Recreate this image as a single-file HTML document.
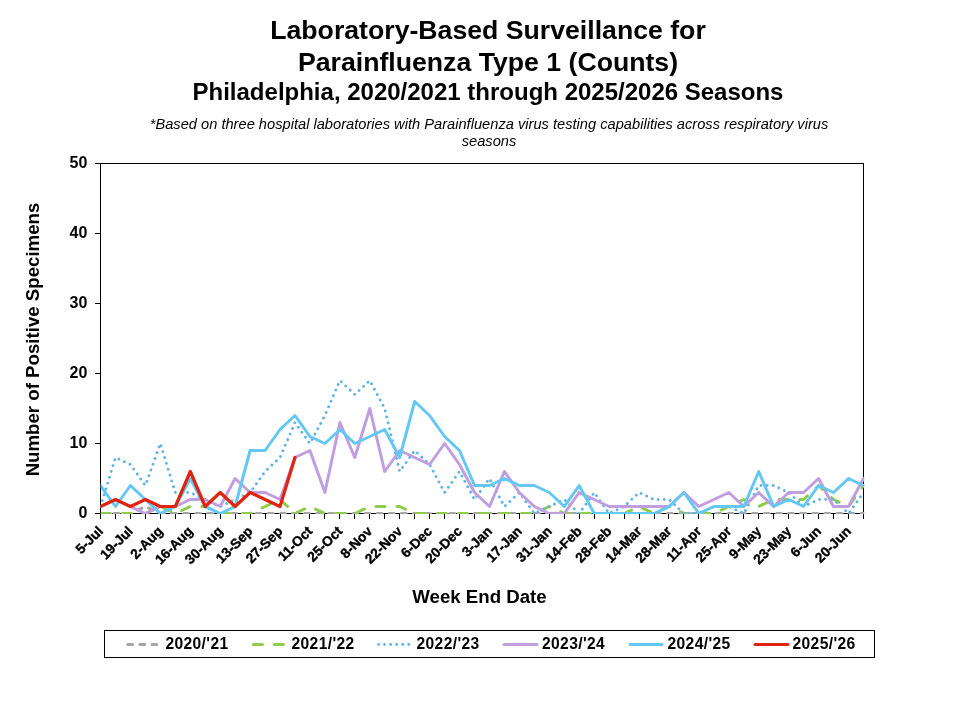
<!DOCTYPE html>
<html lang="en"><head><meta charset="utf-8"><title>Parainfluenza Type 1 Surveillance</title>
<style>
html,body{margin:0;padding:0;background:#fff;}
body{width:960px;height:720px;overflow:hidden;}
svg{display:block;}
text{font-family:"Liberation Sans",sans-serif;fill:#000;}
.b{font-weight:bold;}
.t1{font-size:26.67px;font-weight:bold;text-anchor:middle;}
.t2{font-size:24px;font-weight:bold;text-anchor:middle;}
.sub{font-size:14.67px;font-style:italic;text-anchor:middle;}
.yl{font-size:16px;font-weight:bold;text-anchor:end;}
.xl{font-size:13.8px;font-weight:bold;text-anchor:end;stroke:#000;stroke-width:0.35px;}
.at{font-size:18.67px;font-weight:bold;text-anchor:middle;}
.lg{font-size:15.6px;font-weight:bold;letter-spacing:0.38px;}
.ln{fill:none;stroke-linejoin:round;}
</style></head><body>
<svg width="960" height="720" viewBox="0 0 960 720">
<rect width="960" height="720" fill="#fff"/>
<text class="t1" x="488" y="39">Laboratory-Based Surveillance for</text>
<text class="t1" x="488" y="70.5">Parainfluenza Type 1 (Counts)</text>
<text class="t2" x="488" y="100">Philadelphia, 2020/2021 through 2025/2026 Seasons</text>
<text class="sub" x="489" y="129.3">*Based on three hospital laboratories with Parainfluenza virus testing capabilities across respiratory virus</text>
<text class="sub" x="489" y="146">seasons</text>
<g stroke="#000" stroke-width="1" fill="none" shape-rendering="crispEdges">
<rect x="100.5" y="163.5" width="763" height="350"/>
<line x1="95" y1="513.5" x2="100.5" y2="513.5"/>
<line x1="95" y1="443.5" x2="100.5" y2="443.5"/>
<line x1="95" y1="373.5" x2="100.5" y2="373.5"/>
<line x1="95" y1="303.5" x2="100.5" y2="303.5"/>
<line x1="95" y1="233.5" x2="100.5" y2="233.5"/>
<line x1="95" y1="163.5" x2="100.5" y2="163.5"/>
<line x1="100.5" y1="513.5" x2="100.5" y2="519"/>
<line x1="115.5" y1="513.5" x2="115.5" y2="519"/>
<line x1="130.5" y1="513.5" x2="130.5" y2="519"/>
<line x1="145.5" y1="513.5" x2="145.5" y2="519"/>
<line x1="160.5" y1="513.5" x2="160.5" y2="519"/>
<line x1="175.5" y1="513.5" x2="175.5" y2="519"/>
<line x1="190.5" y1="513.5" x2="190.5" y2="519"/>
<line x1="205.5" y1="513.5" x2="205.5" y2="519"/>
<line x1="220.5" y1="513.5" x2="220.5" y2="519"/>
<line x1="235.5" y1="513.5" x2="235.5" y2="519"/>
<line x1="250.5" y1="513.5" x2="250.5" y2="519"/>
<line x1="265.5" y1="513.5" x2="265.5" y2="519"/>
<line x1="280.5" y1="513.5" x2="280.5" y2="519"/>
<line x1="294.5" y1="513.5" x2="294.5" y2="519"/>
<line x1="309.5" y1="513.5" x2="309.5" y2="519"/>
<line x1="324.5" y1="513.5" x2="324.5" y2="519"/>
<line x1="339.5" y1="513.5" x2="339.5" y2="519"/>
<line x1="354.5" y1="513.5" x2="354.5" y2="519"/>
<line x1="369.5" y1="513.5" x2="369.5" y2="519"/>
<line x1="384.5" y1="513.5" x2="384.5" y2="519"/>
<line x1="399.5" y1="513.5" x2="399.5" y2="519"/>
<line x1="414.5" y1="513.5" x2="414.5" y2="519"/>
<line x1="429.5" y1="513.5" x2="429.5" y2="519"/>
<line x1="444.5" y1="513.5" x2="444.5" y2="519"/>
<line x1="459.5" y1="513.5" x2="459.5" y2="519"/>
<line x1="474.5" y1="513.5" x2="474.5" y2="519"/>
<line x1="489.5" y1="513.5" x2="489.5" y2="519"/>
<line x1="504.5" y1="513.5" x2="504.5" y2="519"/>
<line x1="519.5" y1="513.5" x2="519.5" y2="519"/>
<line x1="534.5" y1="513.5" x2="534.5" y2="519"/>
<line x1="549.5" y1="513.5" x2="549.5" y2="519"/>
<line x1="564.5" y1="513.5" x2="564.5" y2="519"/>
<line x1="579.5" y1="513.5" x2="579.5" y2="519"/>
<line x1="594.5" y1="513.5" x2="594.5" y2="519"/>
<line x1="609.5" y1="513.5" x2="609.5" y2="519"/>
<line x1="624.5" y1="513.5" x2="624.5" y2="519"/>
<line x1="639.5" y1="513.5" x2="639.5" y2="519"/>
<line x1="654.5" y1="513.5" x2="654.5" y2="519"/>
<line x1="668.5" y1="513.5" x2="668.5" y2="519"/>
<line x1="683.5" y1="513.5" x2="683.5" y2="519"/>
<line x1="698.5" y1="513.5" x2="698.5" y2="519"/>
<line x1="713.5" y1="513.5" x2="713.5" y2="519"/>
<line x1="728.5" y1="513.5" x2="728.5" y2="519"/>
<line x1="743.5" y1="513.5" x2="743.5" y2="519"/>
<line x1="758.5" y1="513.5" x2="758.5" y2="519"/>
<line x1="773.5" y1="513.5" x2="773.5" y2="519"/>
<line x1="788.5" y1="513.5" x2="788.5" y2="519"/>
<line x1="803.5" y1="513.5" x2="803.5" y2="519"/>
<line x1="818.5" y1="513.5" x2="818.5" y2="519"/>
<line x1="833.5" y1="513.5" x2="833.5" y2="519"/>
<line x1="848.5" y1="513.5" x2="848.5" y2="519"/>
<line x1="863.5" y1="513.5" x2="863.5" y2="519"/>
</g>
<clipPath id="pc"><rect x="100.6" y="160" width="763.7" height="354"/></clipPath>
<g class="ln" clip-path="url(#pc)">
<polyline points="100.5,513.5 115.5,513.5 130.4,513.5 145.4,506.5 160.3,513.5 175.3,513.5 190.3,513.5 205.2,513.5 220.2,513.5 235.1,513.5 250.1,513.5 265.1,513.5 280.0,513.5 295.0,513.5 309.9,513.5 324.9,513.5 339.9,513.5 354.8,513.5 369.8,513.5 384.7,513.5 399.7,513.5 414.7,513.5 429.6,513.5 444.6,513.5 459.5,513.5 474.5,513.5 489.5,513.5 504.4,513.5 519.4,513.5 534.3,513.5 549.3,513.5 564.3,513.5 579.2,513.5 594.2,513.5 609.1,513.5 624.1,513.5 639.1,513.5 654.0,513.5 669.0,513.5 683.9,513.5 698.9,513.5 713.9,513.5 728.8,513.5 743.8,513.5 758.7,513.5 773.7,513.5 788.7,513.5 803.6,513.5 818.6,513.5 833.5,513.5 848.5,513.5 863.5,513.5" stroke="#a5a5a5" stroke-width="3" stroke-dasharray="4.8 7.3" stroke-dashoffset="-1.5" stroke-linecap="round"/>
<polyline points="100.5,513.5 115.5,513.5 130.4,513.5 145.4,513.5 160.3,506.5 175.3,513.5 190.3,506.5 205.2,506.5 220.2,513.5 235.1,513.5 250.1,513.5 265.1,506.5 280.0,499.5 295.0,513.5 309.9,506.5 324.9,513.5 339.9,513.5 354.8,513.5 369.8,506.5 384.7,506.5 399.7,506.5 414.7,513.5 429.6,513.5 444.6,513.5 459.5,513.5 474.5,513.5 489.5,513.5 504.4,513.5 519.4,513.5 534.3,513.5 549.3,506.5 564.3,513.5 579.2,513.5 594.2,513.5 609.1,513.5 624.1,513.5 639.1,506.5 654.0,513.5 669.0,506.5 683.9,513.5 698.9,513.5 713.9,513.5 728.8,506.5 743.8,499.5 758.7,506.5 773.7,499.5 788.7,499.5 803.6,499.5 818.6,485.5 833.5,499.5 848.5,506.5 863.5,485.5" stroke="#8ecd4c" stroke-width="3" stroke-dasharray="9 12" stroke-dashoffset="-1" stroke-linecap="round"/>
<polyline points="100.5,506.5 115.5,457.5 130.4,464.5 145.4,485.5 160.3,443.5 175.3,492.5 190.3,492.5 205.2,499.5 220.2,506.5 235.1,499.5 250.1,492.5 265.1,471.5 280.0,457.5 295.0,422.5 309.9,443.5 324.9,415.5 339.9,380.5 354.8,394.5 369.8,380.5 384.7,408.5 399.7,471.5 414.7,450.5 429.6,464.5 444.6,492.5 459.5,471.5 474.5,499.5 489.5,478.5 504.4,506.5 519.4,492.5 534.3,513.5 549.3,506.5 564.3,499.5 579.2,513.5 594.2,492.5 609.1,513.5 624.1,506.5 639.1,492.5 654.0,499.5 669.0,499.5 683.9,513.5 698.9,513.5 713.9,506.5 728.8,506.5 743.8,513.5 758.7,485.5 773.7,485.5 788.7,492.5 803.6,506.5 818.6,499.5 833.5,499.5 848.5,513.5 863.5,492.5" stroke="#64b3e5" stroke-width="2.9" stroke-dasharray="0.01 6.1" stroke-linecap="round"/>
<polyline points="100.5,506.5 115.5,499.5 130.4,506.5 145.4,513.5 160.3,506.5 175.3,506.5 190.3,499.5 205.2,499.5 220.2,506.5 235.1,478.5 250.1,492.5 265.1,492.5 280.0,499.5 295.0,457.5 309.9,450.5 324.9,492.5 339.9,422.5 354.8,457.5 369.8,408.5 384.7,471.5 399.7,450.5 414.7,457.5 429.6,464.5 444.6,443.5 459.5,464.5 474.5,492.5 489.5,506.5 504.4,471.5 519.4,492.5 534.3,506.5 549.3,513.5 564.3,513.5 579.2,492.5 594.2,499.5 609.1,506.5 624.1,506.5 639.1,506.5 654.0,506.5 669.0,506.5 683.9,492.5 698.9,506.5 713.9,499.5 728.8,492.5 743.8,506.5 758.7,492.5 773.7,506.5 788.7,492.5 803.6,492.5 818.6,478.5 833.5,506.5 848.5,506.5 863.5,478.5" stroke="#c19ee0" stroke-width="3" stroke-linecap="round"/>
<polyline points="100.5,485.5 115.5,506.5 130.4,485.5 145.4,499.5 160.3,513.5 175.3,506.5 190.3,478.5 205.2,506.5 220.2,513.5 235.1,506.5 250.1,450.5 265.1,450.5 280.0,429.5 295.0,415.5 309.9,436.5 324.9,443.5 339.9,429.5 354.8,443.5 369.8,436.5 384.7,429.5 399.7,457.5 414.7,401.5 429.6,415.5 444.6,436.5 459.5,450.5 474.5,485.5 489.5,485.5 504.4,478.5 519.4,485.5 534.3,485.5 549.3,492.5 564.3,506.5 579.2,485.5 594.2,513.5 609.1,513.5 624.1,513.5 639.1,513.5 654.0,513.5 669.0,506.5 683.9,492.5 698.9,513.5 713.9,506.5 728.8,506.5 743.8,506.5 758.7,471.5 773.7,506.5 788.7,499.5 803.6,506.5 818.6,485.5 833.5,492.5 848.5,478.5 863.5,485.5" stroke="#64c7f4" stroke-width="3" stroke-linecap="round"/>
<polyline points="100.5,506.5 115.5,499.5 130.4,506.5 145.4,499.5 160.3,506.5 175.3,506.5 190.3,471.5 205.2,506.5 220.2,492.5 235.1,506.5 250.1,492.5 265.1,499.5 280.0,506.5 295.0,457.5" stroke="#e02410" stroke-width="3.2" stroke-linecap="round"/>
</g>
<text class="yl" x="87.3" y="518.0">0</text>
<text class="yl" x="87.3" y="448.0">10</text>
<text class="yl" x="87.3" y="378.0">20</text>
<text class="yl" x="87.3" y="308.0">30</text>
<text class="yl" x="87.3" y="238.0">40</text>
<text class="yl" x="87.3" y="168.0">50</text>
<text class="xl" transform="translate(100.5,528.6) rotate(-45)" dy="0.35em">5-Jul</text>
<text class="xl" transform="translate(130.4,528.6) rotate(-45)" dy="0.35em">19-Jul</text>
<text class="xl" transform="translate(160.3,528.6) rotate(-45)" dy="0.35em">2-Aug</text>
<text class="xl" transform="translate(190.3,528.6) rotate(-45)" dy="0.35em">16-Aug</text>
<text class="xl" transform="translate(220.2,528.6) rotate(-45)" dy="0.35em">30-Aug</text>
<text class="xl" transform="translate(250.1,528.6) rotate(-45)" dy="0.35em">13-Sep</text>
<text class="xl" transform="translate(280.0,528.6) rotate(-45)" dy="0.35em">27-Sep</text>
<text class="xl" transform="translate(309.9,528.6) rotate(-45)" dy="0.35em">11-Oct</text>
<text class="xl" transform="translate(339.9,528.6) rotate(-45)" dy="0.35em">25-Oct</text>
<text class="xl" transform="translate(369.8,528.6) rotate(-45)" dy="0.35em">8-Nov</text>
<text class="xl" transform="translate(399.7,528.6) rotate(-45)" dy="0.35em">22-Nov</text>
<text class="xl" transform="translate(429.6,528.6) rotate(-45)" dy="0.35em">6-Dec</text>
<text class="xl" transform="translate(459.5,528.6) rotate(-45)" dy="0.35em">20-Dec</text>
<text class="xl" transform="translate(489.5,528.6) rotate(-45)" dy="0.35em">3-Jan</text>
<text class="xl" transform="translate(519.4,528.6) rotate(-45)" dy="0.35em">17-Jan</text>
<text class="xl" transform="translate(549.3,528.6) rotate(-45)" dy="0.35em">31-Jan</text>
<text class="xl" transform="translate(579.2,528.6) rotate(-45)" dy="0.35em">14-Feb</text>
<text class="xl" transform="translate(609.1,528.6) rotate(-45)" dy="0.35em">28-Feb</text>
<text class="xl" transform="translate(639.1,528.6) rotate(-45)" dy="0.35em">14-Mar</text>
<text class="xl" transform="translate(669.0,528.6) rotate(-45)" dy="0.35em">28-Mar</text>
<text class="xl" transform="translate(698.9,528.6) rotate(-45)" dy="0.35em">11-Apr</text>
<text class="xl" transform="translate(728.8,528.6) rotate(-45)" dy="0.35em">25-Apr</text>
<text class="xl" transform="translate(758.7,528.6) rotate(-45)" dy="0.35em">9-May</text>
<text class="xl" transform="translate(788.7,528.6) rotate(-45)" dy="0.35em">23-May</text>
<text class="xl" transform="translate(818.6,528.6) rotate(-45)" dy="0.35em">6-Jun</text>
<text class="xl" transform="translate(848.5,528.6) rotate(-45)" dy="0.35em">20-Jun</text>
<text class="at" transform="translate(39.2,339.5) rotate(-90)">Number of Positive Specimens</text>
<text class="at" x="479.5" y="603">Week End Date</text>
<rect x="104.5" y="630.5" width="770" height="27" fill="#fff" stroke="#000" stroke-width="1" shape-rendering="crispEdges"/>
<line x1="127.8" y1="644.5" x2="157.5" y2="644.5" stroke="#a5a5a5" stroke-width="3" stroke-dasharray="4.8 7.3" stroke-linecap="round"/>
<line x1="253.4" y1="644.5" x2="283.5" y2="644.5" stroke="#8ecd4c" stroke-width="3" stroke-dasharray="9 12" stroke-linecap="round"/>
<line x1="378.5" y1="644.5" x2="409" y2="644.5" stroke="#64b3e5" stroke-width="2.9" stroke-dasharray="0.01 6.05" stroke-linecap="round"/>
<line x1="504" y1="644.5" x2="537" y2="644.5" stroke="#c19ee0" stroke-width="3" stroke-linecap="round"/>
<line x1="630" y1="644.5" x2="662" y2="644.5" stroke="#64c7f4" stroke-width="3" stroke-linecap="round"/>
<line x1="755" y1="644.5" x2="788" y2="644.5" stroke="#e02410" stroke-width="3" stroke-linecap="round"/>
<text class="lg" x="165.4" y="649">2020/'21</text>
<text class="lg" x="291.5" y="649">2021/'22</text>
<text class="lg" x="416.5" y="649">2022/'23</text>
<text class="lg" x="542.0" y="649">2023/'24</text>
<text class="lg" x="667.5" y="649">2024/'25</text>
<text class="lg" x="792.5" y="649">2025/'26</text>
</svg>
</body></html>
